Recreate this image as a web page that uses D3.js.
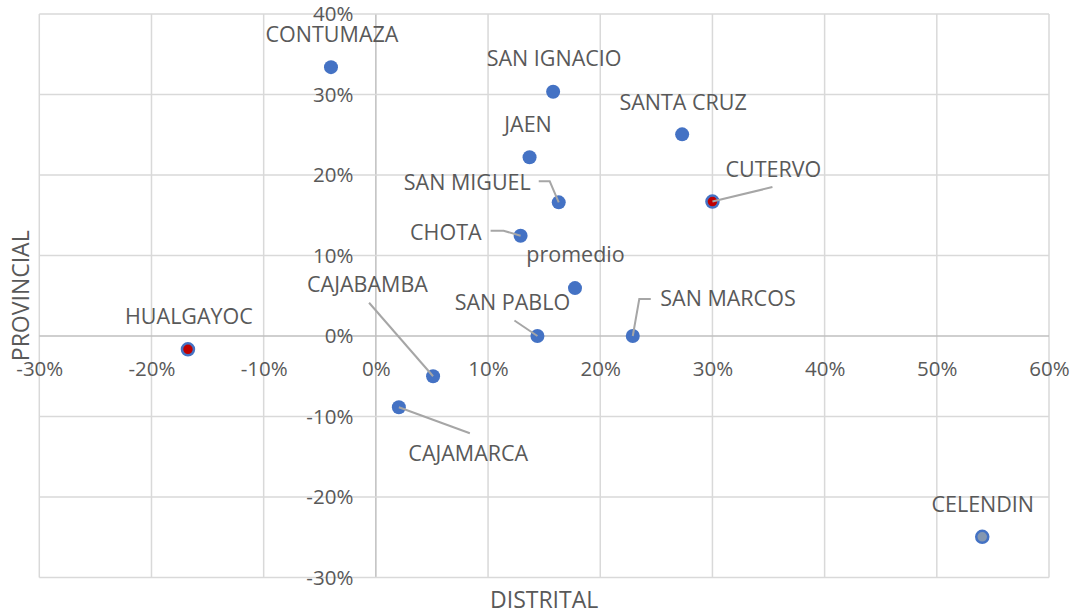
<!DOCTYPE html>
<html>
<head>
<meta charset="utf-8">
<script src="https://cdn.jsdelivr.net/npm/d3@7"></script>
<style>
  body { margin: 0; background: #fff; }
  svg { display: block; font-family: "Open Sans", sans-serif; }
</style>
</head>
<body>
<div id="chart"></div>
<script>
// provincias y valores (% de variacion distrital vs provincial)
const names = ['CONTUMAZA', 'SAN IGNACIO', 'SANTA CRUZ', 'JAEN', 'SAN MIGUEL', 'CUTERVO', 'CHOTA',
  'promedio', 'SAN PABLO', 'SAN MARCOS', 'HUALGAYOC', 'CAJABAMBA', 'CAJAMARCA', 'CELENDIN'];
const distrital = [-4.0, 15.8, 27.3, 13.7, 16.3, 30.0, 12.9, 17.75, 14.4, 22.9, -16.75, 5.1, 2.05, 54.05];
const provincial = [33.4, 30.35, 25.05, 22.2, 16.6, 16.7, 12.45, 5.95, 0, 0, -1.65, -5.0, -8.85, -24.95];
const xTicks = [-30, -20, -10, 0, 10, 20, 30, 40, 50, 60];
const yTicks = [-30, -20, -10, 0, 10, 20, 30, 40];

const data = names.map((n, i) => ({ name: n, x: distrital[i], y: provincial[i] }));

// label placement (pixel offsets from the marker) and leader lines
const labelPos = {
  'CONTUMAZA': { dx: 1, dy: -25, anchor: 'middle' },
  'SAN IGNACIO': { dx: 1, dy: -26, anchor: 'middle' },
  'SANTA CRUZ': { dx: 1, dy: -24, anchor: 'middle' },
  'JAEN': { dx: -1.5, dy: -25.5, anchor: 'middle' },
  'SAN MIGUEL': { dx: -28, dy: -12, anchor: 'end', leader: [[-20, -21], [-9, -21], [0, 0]] },
  'CUTERVO': { dx: 13, dy: -25, anchor: 'start', leader: [[60, -14.5], [0, 0]] },
  'CHOTA': { dx: -39, dy: 4.5, anchor: 'end', leader: [[-30, -5], [-17, -5], [0, 0]] },
  'promedio': { dx: 0.5, dy: -26.3, anchor: 'middle' },
  'SAN PABLO': { dx: -25, dy: -26.5, anchor: 'middle', leader: [[-23, -15.5], [0, 0]] },
  'SAN MARCOS': { dx: 27.5, dy: -30, anchor: 'start', leader: [[18, -37], [6.5, -37], [0, 0]] },
  'HUALGAYOC': { dx: 1, dy: -25, anchor: 'middle' },
  'CAJABAMBA': { dx: -126, dy: -84.5, anchor: 'start', leader: [[-64, -73.5], [0, 0]] },
  'CAJAMARCA': { dx: 9.5, dy: 53.7, anchor: 'start', leader: [[71, 26], [0, 0]] },
  'CELENDIN': { dx: 0.5, dy: -24.4, anchor: 'middle' },
};
const specialFill = { 'CUTERVO': '#C00000', 'HUALGAYOC': '#C00000', 'CELENDIN': '#8497B0' };

const width = 1076;
const height = 614;
const margin = { top: 14, right: 27, bottom: 36.5, left: 39.3 };
const textColor = '#595959';

const svg = d3.select('#chart')
  .append('svg')
  .attr('width', width)
  .attr('height', height);

const x = d3.scaleLinear().domain([-30, 60]).range([margin.left, width - margin.right]);
const y = d3.scaleLinear().domain([-30, 40]).range([height - margin.bottom, margin.top]);

// gridlines
const grid = svg.append('g').attr('class', 'grid');
grid.selectAll('.vline')
  .data(xTicks)
  .enter()
  .append('line')
  .attr('x1', (d) => x(d))
  .attr('x2', (d) => x(d))
  .attr('y1', y(40))
  .attr('y2', y(-30))
  .attr('stroke', (d) => (d === 0 ? '#bfbfbf' : '#d9d9d9'))
  .attr('stroke-width', 1.5);
grid.selectAll('.hline')
  .data(yTicks)
  .enter()
  .append('line')
  .attr('x1', x(-30))
  .attr('x2', x(60))
  .attr('y1', (d) => y(d))
  .attr('y2', (d) => y(d))
  .attr('stroke', (d) => (d === 0 ? '#bfbfbf' : '#d9d9d9'))
  .attr('stroke-width', 1.5);

// axes crossing at 0
const fmt = (d) => `${d}%`;
const xAxis = svg.append('g')
  .attr('transform', `translate(0,${y(0)})`)
  .call(d3.axisBottom(x).tickValues(xTicks).tickFormat(fmt).tickSize(0).tickPadding(25));
const yAxis = svg.append('g')
  .attr('transform', `translate(${x(0)},0)`)
  .call(d3.axisLeft(y).tickValues(yTicks).tickFormat(fmt).tickSize(0).tickPadding(22.5));
[xAxis, yAxis].forEach((a) => {
  a.select('.domain').remove();
  a.selectAll('text')
    .attr('fill', textColor)
    .style('font-size', '20.5px')
    .style('font-family', '"Open Sans", sans-serif');
});

// axis titles
svg.append('text')
  .attr('x', (x(-30) + x(60)) / 2)
  .attr('y', 607.5)
  .attr('text-anchor', 'middle')
  .attr('fill', textColor)
  .style('font-size', '23px')
  .text('DISTRITAL');
svg.append('text')
  .attr('transform', `translate(29,${(y(40) + y(-30)) / 2}) rotate(-90)`)
  .attr('text-anchor', 'middle')
  .attr('fill', textColor)
  .style('font-size', '23px')
  .text('PROVINCIAL');

// markers
svg.append('g')
  .selectAll('circle')
  .data(data)
  .enter()
  .append('circle')
  .attr('cx', (d) => x(d.x))
  .attr('cy', (d) => y(d.y))
  .attr('r', (d) => (specialFill[d.name] ? 6 : 7))
  .attr('fill', (d) => specialFill[d.name] || '#4472C4')
  .attr('stroke', '#4472C4')
  .attr('stroke-width', (d) => (specialFill[d.name] ? 2.5 : 0));

// leader lines
const line = d3.line();
svg.append('g')
  .selectAll('path')
  .data(data.filter((d) => labelPos[d.name].leader))
  .enter()
  .append('path')
  .attr('d', (d) => line(labelPos[d.name].leader.map((p) => [x(d.x) + p[0], y(d.y) + p[1]])))
  .attr('fill', 'none')
  .attr('stroke', '#a6a6a6')
  .attr('stroke-width', 2);

// data labels
svg.append('g')
  .selectAll('text')
  .data(data)
  .enter()
  .append('text')
  .attr('x', (d) => x(d.x) + labelPos[d.name].dx)
  .attr('y', (d) => y(d.y) + labelPos[d.name].dy)
  .attr('text-anchor', (d) => labelPos[d.name].anchor)
  .attr('fill', textColor)
  .style('font-size', '21.5px')
  .text((d) => d.name);
</script>
</body>
</html>
